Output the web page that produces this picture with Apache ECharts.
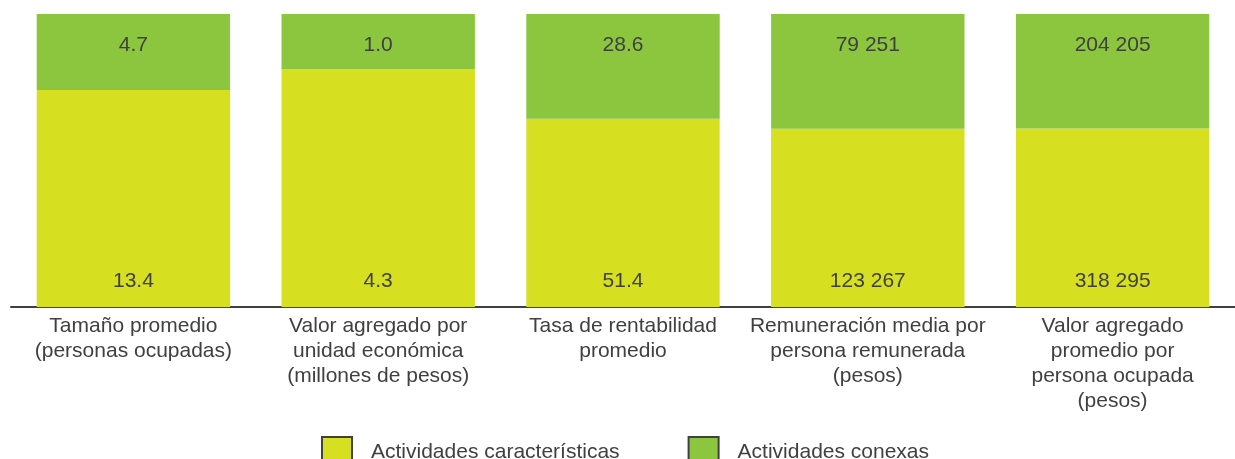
<!DOCTYPE html>
<html>
<head>
<meta charset="utf-8">
<script src="https://cdn.jsdelivr.net/npm/echarts@6/dist/echarts.min.js"></script>
<style>
  html, body { margin: 0; padding: 0; background: #fff; }
  #chart { width: 1235px; height: 459px; }
</style>
</head>
<body>
<div id="chart"></div>
<script>
let categories = [
    'Tamaño promedio\n(personas ocupadas)',
    'Valor agregado por\nunidad económica\n(millones de pesos)',
    'Tasa de rentabilidad\npromedio',
    'Remuneración media por\npersona remunerada\n(pesos)',
    'Valor agregado\npromedio por\npersona ocupada\n(pesos)'
];
let caracteristicas = [13.4, 4.3, 51.4, 123267, 318295];
let conexas = [4.7, 1.0, 28.6, 79251, 204205];
let decimales = [1, 1, 1, 0, 0];

// cada barra al 100%, la etiqueta muestra el valor original
let shareCar = caracteristicas.map((v, i) => v / (v + conexas[i]));
let shareCon = conexas.map((v, i) => v / (v + caracteristicas[i]));

function fmt(v, d) {
    let s = v.toFixed(d);
    let parts = s.split('.');
    parts[0] = parts[0].replace(/\B(?=(\d{3})+(?!\d))/g, ' ');
    return parts.join('.');
}

let textColor = '#404040';
let chart = echarts.init(document.getElementById('chart'));
let option = {
    backgroundColor: '#fff',
    animation: false,
    textStyle: { fontFamily: 'Liberation Sans, Arial, sans-serif' },
    grid: { left: 11, right: 0, top: 14, bottom: 152 },
    legend: {
        top: 436,
        left: 321,
        padding: 0,
        itemWidth: 30,
        itemHeight: 30,
        itemGap: 68,
        icon: 'rect',
        itemStyle: { borderColor: '#404040', borderWidth: 2 },
        textStyle: { color: textColor, fontSize: 21, padding: [0, 0, 0, 14] },
        data: ['Actividades características', 'Actividades conexas']
    },
    xAxis: {
        type: 'category',
        data: categories,
        offset: 3,
        axisLine: { show: true, lineStyle: { color: '#404040', width: 2 } },
        axisTick: { show: false },
        axisLabel: {
            interval: 0,
            color: textColor,
            fontSize: 21,
            lineHeight: 25,
            margin: 4
        }
    },
    yAxis: {
        type: 'value',
        min: 0,
        max: 1,
        show: false,
        splitLine: { show: false }
    },
    series: [{
        name: 'Actividades características',
        type: 'bar',
        stack: 'total',
        barCategoryGap: '21%',
        data: shareCar,
        itemStyle: { color: '#D7DF21' },
        label: {
            show: true,
            position: 'insideBottom',
            distance: 15,
            color: textColor,
            fontSize: 21,
            formatter: p => fmt(caracteristicas[p.dataIndex], decimales[p.dataIndex])
        }
    }, {
        name: 'Actividades conexas',
        type: 'bar',
        stack: 'total',
        data: shareCon,
        itemStyle: { color: '#8CC63F' },
        label: {
            show: true,
            position: 'insideTop',
            distance: 21,
            color: textColor,
            fontSize: 21,
            formatter: p => fmt(conexas[p.dataIndex], decimales[p.dataIndex])
        }
    }]
};
chart.setOption(option);
</script>
</body>
</html>
